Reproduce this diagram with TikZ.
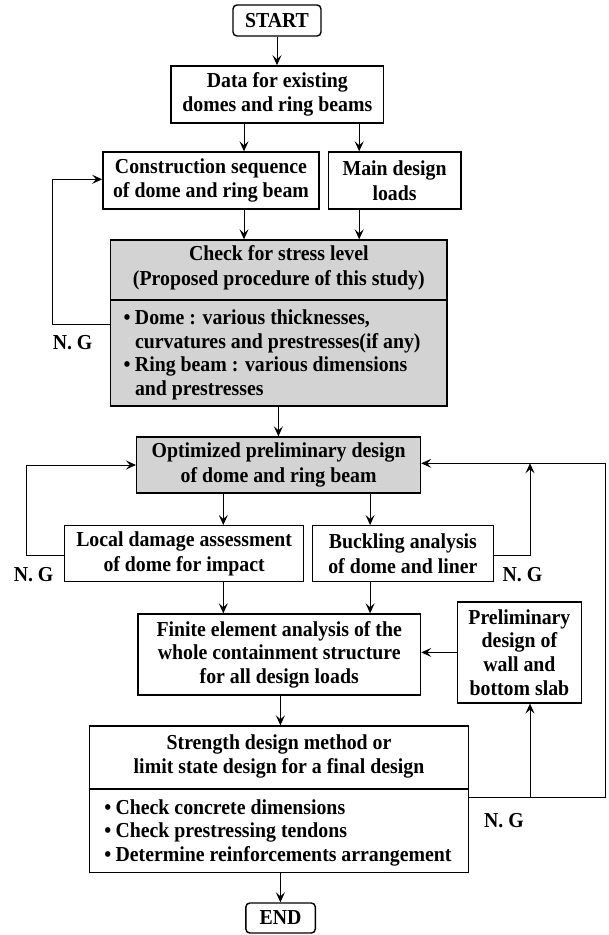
\documentclass[tikz,border=0pt]{standalone}
\usepackage{fontspec}
\setmainfont[FakeStretch=0.93]{Liberation Serif}
\usetikzlibrary{arrows.meta}
\definecolor{boxgray}{RGB}{211,211,211}
\newcommand{\bfnt}{\bfseries\fontsize{21.3}{24.5}\selectfont}
\newcommand{\bfntb}{\bfseries\fontsize{21.3}{23.6}\selectfont}
\newcommand{\bul}{\makebox[11.3pt][l]{\textbullet}}
\newcommand{\ind}{\hspace*{11.3pt}}
\begin{document}
\begin{tikzpicture}[x=1pt,y=-1pt,
  box/.style={draw, line width=1.4pt, inner sep=0pt, align=center, font=\bfnt},
  grbox/.style={box, fill=boxgray},
  term/.style={box, rounded corners=4pt},
  txt/.style={inner sep=0pt, font=\bfnt},
  arr/.style={-{Stealth[length=10pt,width=9pt,inset=4pt]}, line width=1pt},
  ln/.style={line width=1pt}]
\useasboundingbox (0,0) rectangle (609,935);

% nodes
\node[term] (start) at (277,20.5) [minimum width=88, minimum height=31] {START};
\node[box] (data) at (277.3,94.4) [minimum width=212.8, minimum height=57] {Data for existing\\domes and ring beams};
\node[box] (con) at (211,180.5) [minimum width=216.3, minimum height=57] {Construction sequence\\of dome and ring beam};
\node[box] (main) at (394.6,180.5) [minimum width=132.8, minimum height=57] {Main design\\loads};
\node[grbox] (check) at (278.8,323) [minimum width=336.3, minimum height=166] {};
\node[txt, align=center] (checkt) at (278.8,268) {Check for stress level\\(Proposed procedure of this study)};
\node[txt, align=left, anchor=west, font=\bfntb] (checkb) at (123.5,355)
  {\bul Dome : various thicknesses,\\\ind curvatures and prestresses(if any)\\\bul Ring beam : various dimensions\\\ind and prestresses};
\node[grbox] (opt) at (278.6,465) [minimum width=283.9, minimum height=56] {Optimized preliminary design\\of dome and ring beam};
\node[box] (local) at (184.1,553.7) [minimum width=239.2, minimum height=56] {Local damage assessment\\of dome for impact};
\node[box] (buck) at (402.9,553.7) [minimum width=180.6, minimum height=56] {Buckling analysis\\of dome and liner};
\node[box, font=\bfntb] (fe) at (279.2,654.5) [minimum width=282.7, minimum height=81] {Finite element analysis of the\\whole containment structure\\for all design loads};
\node[box, font=\bfntb] (prelim) at (519.4,652.4) [minimum width=123.9, minimum height=101] {Preliminary\\design of\\wall and\\bottom slab};
\node[box] (str) at (279,799.4) [minimum width=379.4, minimum height=146.7] {};
\node[txt, align=center] (strt) at (279,756.5) {Strength design method or\\limit state design for a final design};
\node[txt, align=left, anchor=west, font=\bfntb] (strb) at (104.1,832.7)
  {\bul Check concrete dimensions\\\bul Check prestressing tendons\\\bul Determine reinforcements arrangement};
\node[term] (end) at (280.6,918) [minimum width=69.5, minimum height=30] {END};

\node[txt] (ng1) at (72.6,343) {N. G};
\node[txt] (ng2) at (33.6,575) {N. G};
\node[txt] (ng3) at (522.5,575) {N. G};
\node[txt] (ng4) at (504,821) {N. G};

% dividers
\coordinate (yd1) at (0,300);
\coordinate (yd2) at (0,789);
\draw[line width=1.4pt] (check.west |- yd1) -- (check.east |- yd1);
\draw[line width=1.4pt] (str.west |- yd2) -- (str.east |- yd2);

% x positions of vertical arrows
\coordinate (xa) at (244,0);
\coordinate (xb) at (359.2,0);
\coordinate (xc) at (278.4,0);
\coordinate (xd) at (223.3,0);
\coordinate (xe) at (370.1,0);
\coordinate (xf) at (280.4,0);

\draw[arr] (start.south) -- (start.south |- data.north);
\draw[arr] (data.south -| xa) -- (con.north -| xa);
\draw[arr] (data.south -| xb) -- (main.north -| xb);
\draw[arr] (con.south -| xa) -- (check.north -| xa);
\draw[arr] (main.south -| xb) -- (check.north -| xb);
\draw[arr] (check.south -| xc) -- (opt.north -| xc);
\draw[arr] (opt.south -| xd) -- (local.north -| xd);
\draw[arr] (opt.south -| xe) -- (buck.north -| xe);
\draw[arr] (local.south -| xd) -- (fe.north -| xd);
\draw[arr] (buck.south -| xe) -- (fe.north -| xe);
\draw[arr] (fe.south -| xf) -- (str.north -| xf);
\draw[arr] (str.south -| xf) -- (end.north -| xf);
\draw[arr] (prelim.west) -- (prelim.west -| fe.east);

% feedback loops
\coordinate (y1) at (0,324);
\coordinate (y2) at (0,555);
\coordinate (y4) at (0,797);
\coordinate (ycon) at (0,179.3);
\coordinate (jn) at (530,463.3);
\coordinate (rtop) at (605.7,463.3);
\coordinate (jb) at (530,797);

\draw[arr] (check.west |- y1) -- ++(-57.5,0) |- (con.west |- ycon);
\draw[arr] (local.west |- y2) -- ++(-37.3,0) |- (opt.west);
\draw[arr] (buck.east |- y2) -| (jn);
\draw[arr] (str.east |- y4) -| (rtop) -- (opt.east |- rtop);
\draw[arr] (jb) -- (jb |- prelim.south);
\end{tikzpicture}
\end{document}
